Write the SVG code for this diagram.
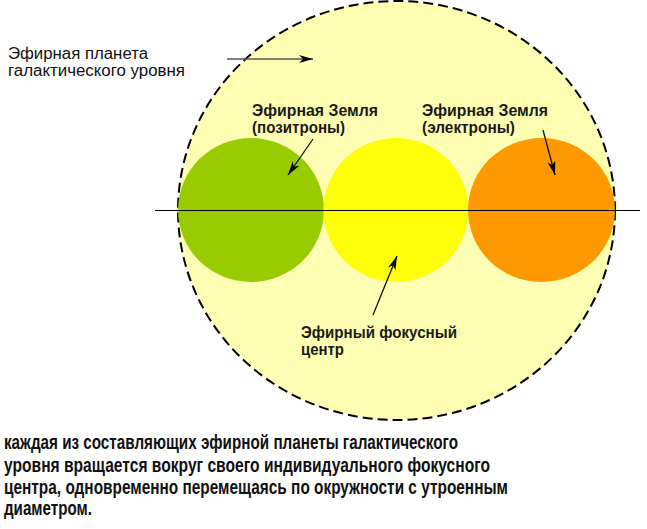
<svg xmlns="http://www.w3.org/2000/svg" width="647" height="529" viewBox="0 0 647 529">
  <style>
    .lbl { font-family: "Liberation Sans", Arial, sans-serif; font-size: 16px; fill: #111; }
    .lblb { font-family: "Liberation Sans", Arial, sans-serif; font-size: 16px; font-weight: bold; fill: #1a1a1a; }
    .cap { font-family: "Liberation Sans", Arial, sans-serif; font-size: 21px; font-weight: bold; fill: #111; }
    .arr { stroke: #111; stroke-width: 1.3; fill: none; marker-end: url(#ah); }
  </style>
  <defs>
    <marker id="ah" markerUnits="userSpaceOnUse" markerWidth="16" markerHeight="10" refX="14" refY="4" orient="auto">
      <path d="M0,0 L14,4 L0,8 L4,4 Z" fill="#000"/>
    </marker>
  </defs>
  <rect width="647" height="529" fill="#ffffff"/>

  <g id="planet">
    <ellipse cx="396.5" cy="210.5" rx="218.5" ry="209.5" fill="#ffffb4" stroke="#000" stroke-width="2" stroke-dasharray="10,5"/>
  </g>
  <g id="earth-positron">
    <ellipse cx="251" cy="210" rx="73" ry="72" fill="#99cc00"/>
  </g>
  <g id="focus-center">
    <ellipse cx="396" cy="210" rx="72.5" ry="72" fill="#ffff0a"/>
  </g>
  <g id="earth-electron">
    <ellipse cx="541.5" cy="210" rx="73.5" ry="72" fill="#ff9900"/>
  </g>

  <g id="axis">
    <line x1="155" y1="210.5" x2="640" y2="210.5" stroke="#000" stroke-width="1.2"/>
  </g>

  <g id="connectors">
    <line class="arr" x1="227" y1="59" x2="313" y2="59" style="stroke:#5a5a4a"/>
    <line class="arr" x1="313" y1="139" x2="288" y2="175"/>
    <line class="arr" x1="543" y1="130" x2="555" y2="175"/>
    <line class="arr" x1="373" y1="315" x2="397" y2="256"/>
  </g>

  <g id="label-planet">
    <text class="lbl" x="8" y="58.5" textLength="140" lengthAdjust="spacingAndGlyphs">Эфирная планета</text>
    <text class="lbl" x="8" y="75.5" textLength="177" lengthAdjust="spacingAndGlyphs">галактического уровня</text>
  </g>
  <g id="label-positron">
    <text class="lblb" x="252" y="115.5" textLength="126" lengthAdjust="spacingAndGlyphs">Эфирная Земля</text>
    <text class="lblb" x="252" y="132.5" textLength="93" lengthAdjust="spacingAndGlyphs">(позитроны)</text>
  </g>
  <g id="label-electron">
    <text class="lblb" x="422" y="115.5" textLength="126" lengthAdjust="spacingAndGlyphs">Эфирная Земля</text>
    <text class="lblb" x="422" y="132.5" textLength="93" lengthAdjust="spacingAndGlyphs">(электроны)</text>
  </g>
  <g id="label-focus">
    <text class="lblb" x="301" y="337.5" textLength="156" lengthAdjust="spacingAndGlyphs">Эфирный фокусный</text>
    <text class="lblb" x="301" y="354.5" textLength="43" lengthAdjust="spacingAndGlyphs">центр</text>
  </g>

  <g id="caption">
    <text class="cap" transform="translate(4,449) scale(0.7,1)" textLength="648.6" lengthAdjust="spacingAndGlyphs">каждая из составляющих эфирной планеты галактического</text>
    <text class="cap" transform="translate(4,471.5) scale(0.7,1)" textLength="694.3" lengthAdjust="spacingAndGlyphs">уровня вращается вокруг своего индивидуального фокусного</text>
    <text class="cap" transform="translate(4,493.5) scale(0.7,1)" textLength="720" lengthAdjust="spacingAndGlyphs">центра, одновременно перемещаясь по окружности с утроенным</text>
    <text class="cap" transform="translate(4,515) scale(0.7,1)" textLength="125.7" lengthAdjust="spacingAndGlyphs">диаметром.</text>
  </g>
</svg>
